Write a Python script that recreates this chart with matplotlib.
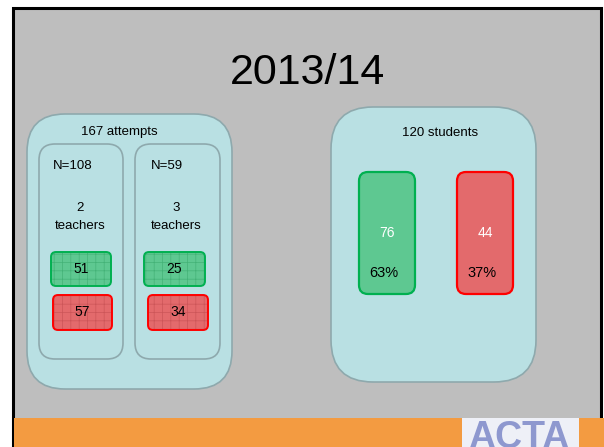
# slide-style diagram: attempts and students for 2013/14

import matplotlib.pyplot as plt
from matplotlib.patches import FancyBboxPatch, Rectangle

plt.rcParams['font.family'] = ['Liberation Sans', 'DejaVu Sans']
plt.rcParams['hatch.linewidth'] = 0.5

title = '2013/14'
total_attempts = 167
group_sizes = [108, 59]          # N per group
group_teachers = [2, 3]          # teachers per group
group_pass = [51, 25]            # green boxes
group_fail = [57, 34]            # red boxes
total_students = 120
student_pass = 76
student_fail = 44
student_pct = ['63%', '37%']

GRAY = '#bebebe'
BOX = '#b9e0e3'
BOX_EDGE = '#8ea9ad'
GREEN = '#5ec891'
GREEN_EDGE = '#00b050'
GREEN_HATCH = '#43b277'
RED = '#e36a6c'
RED_EDGE = '#ff0000'
RED_HATCH = '#cc5558'

fig = plt.figure(figsize=(6.04, 4.47), dpi=100)
ax = fig.add_axes([0, 0, 1, 1])
ax.set_xlim(0, 604)
ax.set_ylim(447, 0)
ax.axis('off')


def rbox(x0, y0, x1, y1, r, fc, ec, lw=1.2, hatch=None, hc=None, z=1):
    if hatch:
        ax.add_patch(FancyBboxPatch((x0, y0), x1 - x0, y1 - y0,
                                    boxstyle='round,pad=0,rounding_size=%g' % r,
                                    fc=fc, ec=hc, lw=0, hatch=hatch, zorder=z))
        fc = 'none'
    ax.add_patch(FancyBboxPatch((x0, y0), x1 - x0, y1 - y0,
                                boxstyle='round,pad=0,rounding_size=%g' % r,
                                fc=fc, ec=ec, lw=lw, zorder=z + 0.1))


# background, frame and footer
ax.add_patch(Rectangle((13, 8), 588, 440, fc=GRAY, ec='black', lw=2.2, zorder=0))
ax.add_patch(Rectangle((14, 418), 590, 30, fc='#f39b41', ec='none', zorder=0.5))
logo = Rectangle((462, 418), 117, 30, fc='#eef0f7', ec='none', zorder=0.6)
ax.add_patch(logo)
logo_txt = ax.text(519, 420, 'ACTA', fontsize=27, fontweight='bold',
                   family=['Liberation Sans Narrow', 'Liberation Sans'],
                   color='#8e98cf', ha='center', va='top', zorder=0.7)
logo_txt.set_clip_path(logo)

ax.text(308, 73, title, fontsize=31, ha='center', va='center')

# left panel: attempts
rbox(27, 114, 232, 389, 38, BOX, BOX_EDGE, lw=1.2)
ax.text(119, 132, '%d attempts' % total_attempts, fontsize=9.5, ha='center', va='center')

inner_x = [(39, 123), (135, 220)]
n_x = [53, 151]
green_x = [(51, 111), (144, 205)]
red_x = [(53, 112), (148, 208)]
for i in range(len(group_sizes)):
    x0, x1 = inner_x[i]
    rbox(x0, 144, x1, 359, 16, BOX, BOX_EDGE, lw=1.2, z=2)
    ax.text(n_x[i], 166, 'N=%d' % group_sizes[i], fontsize=9.5, ha='left', va='center', zorder=3)
    cx = (x0 + x1) / 2 - 1
    ax.text(cx, 208, str(group_teachers[i]), fontsize=9.5, ha='center', va='center', zorder=3)
    ax.text(cx, 226, 'teachers', fontsize=9.5, ha='center', va='center', zorder=3)

    gx0, gx1 = green_x[i]
    rbox(gx0, 252, gx1, 286, 5, GREEN, GREEN_EDGE, lw=1.4, hatch='++', hc=GREEN_HATCH, z=3)
    ax.text((gx0 + gx1) / 2, 269, str(group_pass[i]), fontsize=10, ha='center', va='center', zorder=4)

    rx0, rx1 = red_x[i]
    rbox(rx0, 295, rx1, 330, 5, RED, RED_EDGE, lw=1.4, hatch='++', hc=RED_HATCH, z=3)
    ax.text((rx0 + rx1) / 2, 312, str(group_fail[i]), fontsize=10, ha='center', va='center', zorder=4)

# right panel: students
rbox(331, 107, 536, 382, 42, BOX, BOX_EDGE, lw=1.2)
ax.text(440, 133, '%d students' % total_students, fontsize=9.5, ha='center', va='center')

bars = [(359, 415, GREEN, GREEN_EDGE, student_pass),
        (457, 513, RED, RED_EDGE, student_fail)]
for (x0, x1, fc, ec, val), pct in zip(bars, student_pct):
    rbox(x0, 172, x1, 294, 9, fc, ec, lw=1.6, z=3)
    ax.text((x0 + x1) / 2, 233, str(val), fontsize=10, color='white', ha='center', va='center', zorder=4)
    ax.text(x0 + 25, 273, pct, fontsize=10.5, ha='center', va='center', zorder=4)

fig.savefig('out.png', dpi=100)
